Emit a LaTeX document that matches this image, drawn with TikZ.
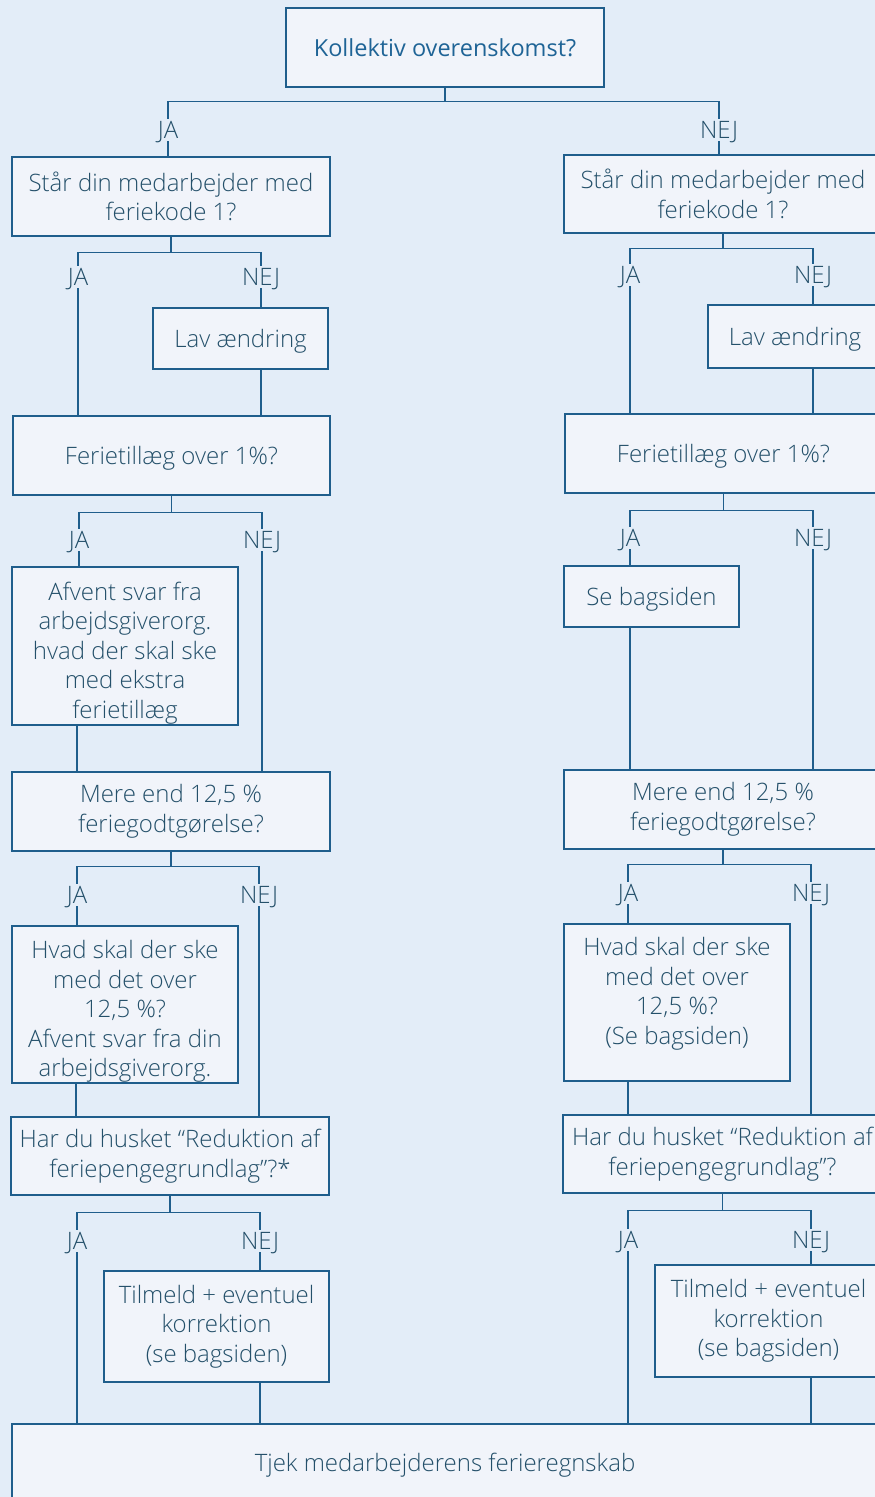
\documentclass[tikz,border=0pt]{standalone}
\usepackage{fontspec}
\setmainfont{Open Sans Light}
\newfontfamily\topfont{Open Sans}
\definecolor{bgc}{HTML}{E3EDF8}
\definecolor{boxc}{HTML}{F1F4FA}
\definecolor{linec}{HTML}{1F5E8C}
\definecolor{txtc}{HTML}{24506A}
\definecolor{toptxt}{HTML}{1F6496}
\tikzset{
  every node/.style={font=\fontsize{24}{29.5}\selectfont, text=txtc},
  box/.style={draw=linec, fill=boxc, line width=1.4pt, align=center, inner sep=0pt},
  one/.style={text depth=0pt},
  txt/.style={align=center, inner sep=0pt},
  lbl/.style={inner sep=2.5pt, text height=17pt, text depth=0pt},
  conn/.style={draw=linec, line width=1.4pt},
}
\begin{document}
\begin{tikzpicture}[x=1pt,y=-1pt]
\useasboundingbox (0,0) rectangle (875,1497);
\clip (0,0) rectangle (875,1497);
\fill[bgc] (0,0) rectangle (875,1497);

% top
\node[box, minimum width=318, minimum height=79, text=toptxt, font=\topfont\fontsize{23.5}{29.5}\selectfont] (k) at (445,47.5) {Kollektiv overenskomst?};
\node[lbl] (ja0) at (168,130) {JA};
\node[lbl] (nej0) at (719,130) {NEJ};

% left column
\node[box, minimum width=318, minimum height=79] (L1) at (171,196.5) {Står din medarbejder med\\feriekode 1?};
\node[lbl] (ja1) at (78,277) {JA};
\node[lbl] (nej1) at (261,277) {NEJ};
\node[box, one, minimum width=175, minimum height=61] (lavL) at (240.5,338.5) {Lav ændring};
\node[box, one, minimum width=317, minimum height=79] (L3) at (171.5,455.5) {Ferietillæg over 1\%?};
\node[lbl] (ja2) at (79,540) {JA};
\node[lbl] (nej2) at (262,540) {NEJ};
\node[box, minimum width=226, minimum height=158] (afv) at (125,646) {};
\node[txt] (afvt) at (125,653) {Afvent svar fra\\arbejdsgiverorg.\\hvad der skal ske\\med ekstra\\ferietillæg};
\node[box, minimum width=318, minimum height=79] (L5) at (171,811.5) {Mere end 12,5 \%\\feriegodtgørelse?};
\node[lbl] (ja3) at (77,895) {JA};
\node[lbl] (nej3) at (259,895) {NEJ};
\node[box, minimum width=226, minimum height=157] (hvadL) at (125,1004.5) {};
\node[txt] (hvadLt) at (125,1011.5) {Hvad skal der ske\\med det over\\12,5 \%?\\Afvent svar fra din\\arbejdsgiverorg.};
\node[box, minimum width=318, minimum height=78] (L7) at (170,1156) {Har du husket “Reduktion af\\feriepengegrundlag”?*};
\node[lbl] (ja4) at (77,1241) {JA};
\node[lbl] (nej4) at (260,1241) {NEJ};
\node[box, minimum width=225, minimum height=111] (tilL) at (216.5,1326.5) {Tilmeld + eventuel\\korrektion\\(se bagsiden)};

% right column
\node[box, minimum width=318, minimum height=78] (R1) at (723,194) {Står din medarbejder med\\feriekode 1?};
\node[lbl] (ja1r) at (630,275) {JA};
\node[lbl] (nej1r) at (813,275) {NEJ};
\node[box, one, minimum width=174, minimum height=63] (lavR) at (795,336.5) {Lav ændring};
\node[box, one, minimum width=317, minimum height=79] (R3) at (723.5,453.5) {Ferietillæg over 1\%?};
\node[lbl] (ja2r) at (630,538) {JA};
\node[lbl] (nej2r) at (813,538) {NEJ};
\node[box, one, minimum width=175, minimum height=61] (seb) at (651.5,596.5) {Se bagsiden};
\node[box, minimum width=318, minimum height=79] (R5) at (723,809.5) {Mere end 12,5 \%\\feriegodtgørelse?};
\node[lbl] (ja3r) at (628,893) {JA};
\node[lbl] (nej3r) at (811,893) {NEJ};
\node[box, minimum width=226, minimum height=157] (hvadR) at (677,1002.5) {};
\node[txt] (hvadRt) at (677,994) {Hvad skal der ske\\med det over\\12,5 \%?\\(Se bagsiden)};
\node[box, minimum width=319, minimum height=78] (R7) at (722.5,1154) {Har du husket “Reduktion af\\feriepengegrundlag”?};
\node[lbl] (ja4r) at (628,1240) {JA};
\node[lbl] (nej4r) at (811,1240) {NEJ};
\node[box, minimum width=227, minimum height=112] (tilR) at (768.5,1321) {Tilmeld + eventuel\\korrektion\\(se bagsiden)};

% bottom
\node[box, one, minimum width=866, minimum height=76] (end) at (445,1462) {Tjek medarbejderens ferieregnskab};

% connectors top
\draw[conn] (k.south) -- ++(0,14) coordinate (s0) -| (ja0.north);
\draw[conn] (s0) -| (nej0.north);
\draw[conn] (ja0.south) -- (ja0.south |- L1.north);
\draw[conn] (nej0.south) -- (nej0.south |- R1.north);

% left connectors
\draw[conn] (L1.south) -- ++(0,16) coordinate (s1) -| (ja1.north);
\draw[conn] (s1) -| (nej1.north);
\draw[conn] (ja1.south) -- (ja1.south |- L3.north);
\draw[conn] (nej1.south) -- (nej1.south |- lavL.north);
\draw[conn] (lavL.south -| nej1) -- (L3.north -| nej1);

\draw[conn] (L3.south) -- ++(0,17) coordinate (s2) -| (ja2.north);
\draw[conn] (s2) -| (nej2.north);
\draw[conn] (ja2.south) -- (ja2.south |- afv.north);
\draw[conn] (nej2.south) -- (nej2.south |- L5.north);
\draw[conn] (afv.south -| 77,0) -- (L5.north -| 77,0);

\draw[conn] (L5.south) -- ++(0,15) coordinate (s3) -| (ja3.north);
\draw[conn] (s3) -| (nej3.north);
\draw[conn] (ja3.south) -- (ja3.south |- hvadL.north);
\draw[conn] (nej3.south) -- (nej3.south |- L7.north);
\draw[conn] (hvadL.south -| 76,0) -- (L7.north -| 76,0);

\draw[conn] (L7.south) -- ++(0,17) coordinate (s4) -| (ja4.north);
\draw[conn] (s4) -| (nej4.north);
\draw[conn] (nej4.south) -- (nej4.south |- tilL.north);
\draw[conn] (ja4.south) -- (ja4.south |- end.north);
\draw[conn] (tilL.south -| nej4) -- (end.north -| nej4);

% right connectors
\draw[conn] (R1.south) -- ++(0,15) coordinate (r1) -| (ja1r.north);
\draw[conn] (r1) -| (nej1r.north);
\draw[conn] (ja1r.south) -- (ja1r.south |- R3.north);
\draw[conn] (nej1r.south) -- (nej1r.south |- lavR.north);
\draw[conn] (lavR.south -| nej1r) -- (R3.north -| nej1r);

\draw[conn] (R3.south) -- ++(0,17) coordinate (r2) -| (ja2r.north);
\draw[conn] (r2) -| (nej2r.north);
\draw[conn] (ja2r.south) -- (ja2r.south |- seb.north);
\draw[conn] (seb.south -| ja2r) -- (R5.north -| ja2r);
\draw[conn] (nej2r.south) -- (nej2r.south |- R5.north);

\draw[conn] (R5.south) -- ++(0,15) coordinate (r3) -| (ja3r.north);
\draw[conn] (r3) -| (nej3r.north);
\draw[conn] (ja3r.south) -- (ja3r.south |- hvadR.north);
\draw[conn] (hvadR.south -| ja3r) -- (R7.north -| ja3r);
\draw[conn] (nej3r.south) -- (nej3r.south |- R7.north);

\draw[conn] (R7.south) -- ++(0,17) coordinate (r4) -| (ja4r.north);
\draw[conn] (r4) -| (nej4r.north);
\draw[conn] (nej4r.south) -- (nej4r.south |- tilR.north);
\draw[conn] (ja4r.south) -- (ja4r.south |- end.north);
\draw[conn] (tilR.south -| nej4r) -- (end.north -| nej4r);
\end{tikzpicture}
\end{document}
